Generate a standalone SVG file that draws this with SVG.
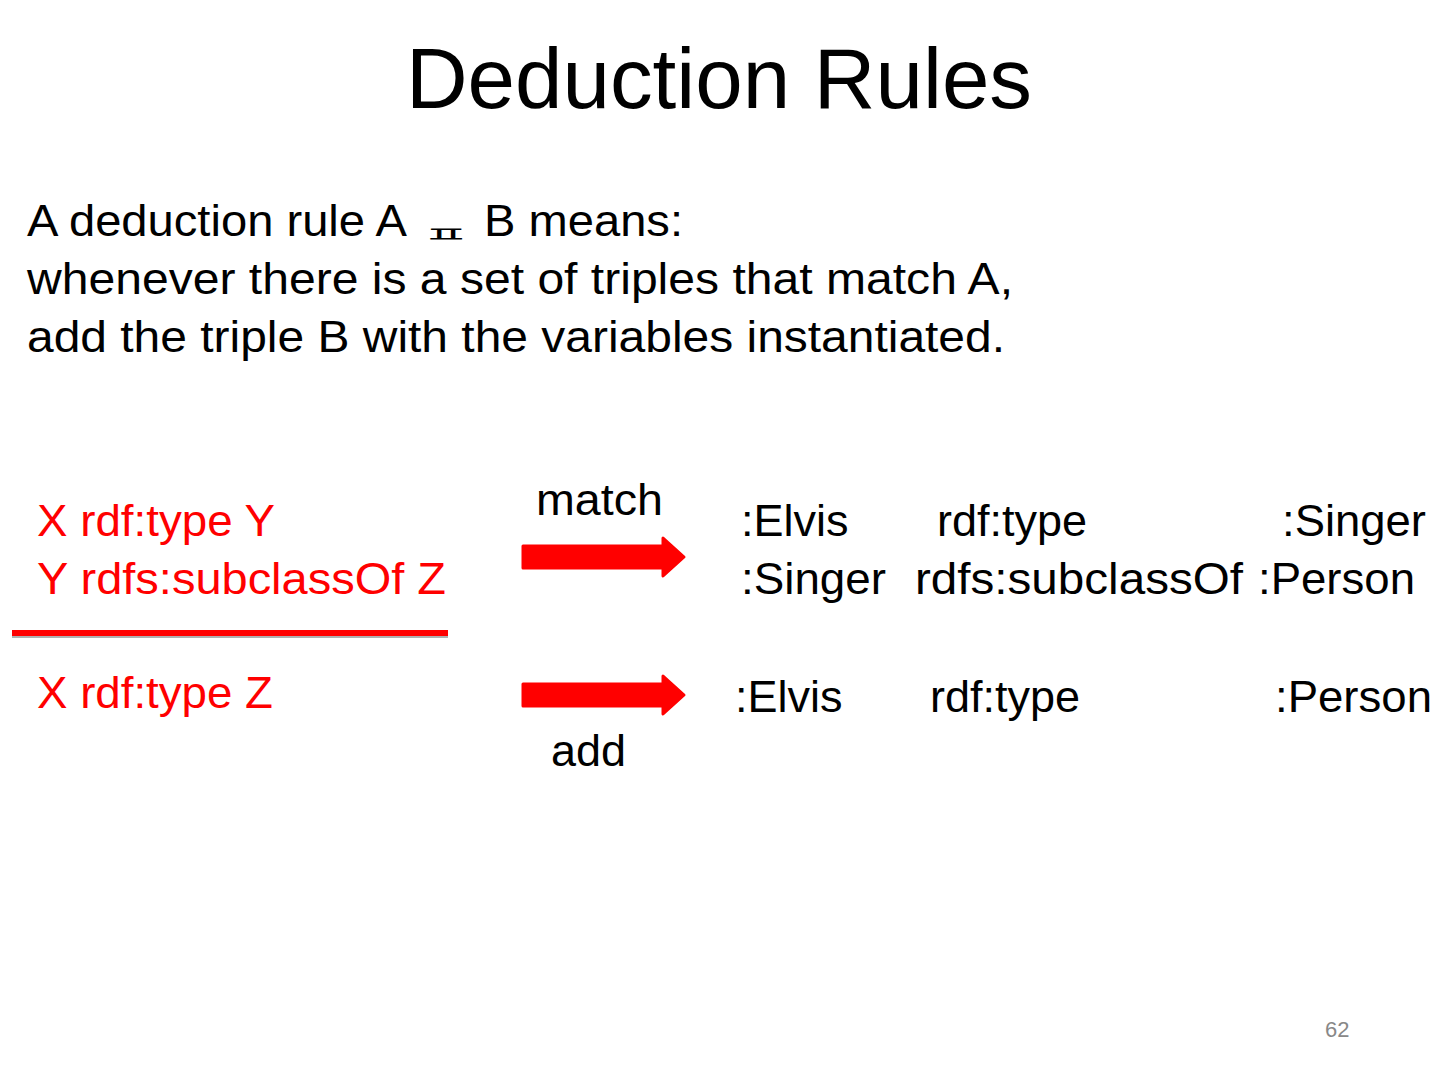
<svg xmlns="http://www.w3.org/2000/svg" width="1440" height="1080" viewBox="0 0 1440 1080">
<defs>
<style>
text{font-family:"Liberation Sans",Arial,sans-serif;}
.title{font-size:85px;fill:#000;}
.body{font-size:44px;fill:#000;}
.red{font-size:45px;fill:#FF0000;}
.blk{font-size:45px;fill:#000;}
.arrow{fill:#FF0000;stroke:#FF0000;stroke-width:3;stroke-linejoin:round;}
</style>
</defs>
<rect width="1440" height="1080" fill="#fff"/>
<g id="title"><text class="title" x="406" y="108" textLength="626" lengthAdjust="spacingAndGlyphs">Deduction Rules</text></g>
<g id="intro">
<text class="body" x="27" y="236" textLength="380" lengthAdjust="spacingAndGlyphs">A deduction rule A</text>
<g transform="translate(446,242) scale(1,0.42)"><text x="0" y="0" text-anchor="middle" style="font-family:'Noto Sans CJK KR',sans-serif;font-size:52px;fill:#000">ㅍ</text></g>
<text class="body" x="484" y="236" textLength="199" lengthAdjust="spacingAndGlyphs">B means:</text>
<text class="body" x="27" y="294" textLength="986" lengthAdjust="spacingAndGlyphs">whenever there is a set of triples that match A,</text>
<text class="body" x="27" y="352" textLength="978" lengthAdjust="spacingAndGlyphs">add the triple B with the variables instantiated.</text>
</g>
<g id="rule">
<text class="red" x="37" y="536" textLength="238" lengthAdjust="spacingAndGlyphs">X rdf:type Y</text>
<text class="red" x="37" y="594" textLength="409" lengthAdjust="spacingAndGlyphs">Y rdfs:subclassOf Z</text>
<rect x="12" y="635" width="436" height="3" fill="#b0b0b0"/>
<rect x="12" y="630" width="436" height="6" fill="#FF0000"/>
<text class="red" x="37" y="708" textLength="236" lengthAdjust="spacingAndGlyphs">X rdf:type Z</text>
</g>
<g id="connectors">
<path class="arrow" d="M523,546 H663 V538 L684,557 L663,576 V568 H523 Z"/>
<path class="arrow" d="M523,684 H663 V676 L684,695 L663,714 V706 H523 Z"/>
</g>
<g id="labels">
<text class="blk" x="536" y="515" textLength="127" lengthAdjust="spacingAndGlyphs">match</text>
<text class="blk" x="551" y="766" textLength="75" lengthAdjust="spacingAndGlyphs">add</text>
</g>
<g id="data">
<text class="blk" x="741" y="536">:Elvis</text>
<text class="blk" x="937" y="536">rdf:type</text>
<text class="blk" x="1282" y="536" textLength="144" lengthAdjust="spacingAndGlyphs">:Singer</text>
<text class="blk" x="741" y="594" textLength="145" lengthAdjust="spacingAndGlyphs">:Singer</text>
<text class="blk" x="915" y="594" textLength="328" lengthAdjust="spacingAndGlyphs">rdfs:subclassOf</text>
<text class="blk" x="1258" y="594" textLength="157" lengthAdjust="spacingAndGlyphs">:Person</text>
</g>
<g id="result">
<text class="blk" x="735" y="712">:Elvis</text>
<text class="blk" x="930" y="712">rdf:type</text>
<text class="blk" x="1275" y="712" textLength="157" lengthAdjust="spacingAndGlyphs">:Person</text>
</g>
<g id="page"><text x="1325" y="1037" style="font-size:22px;fill:#888">62</text></g>
</svg>
